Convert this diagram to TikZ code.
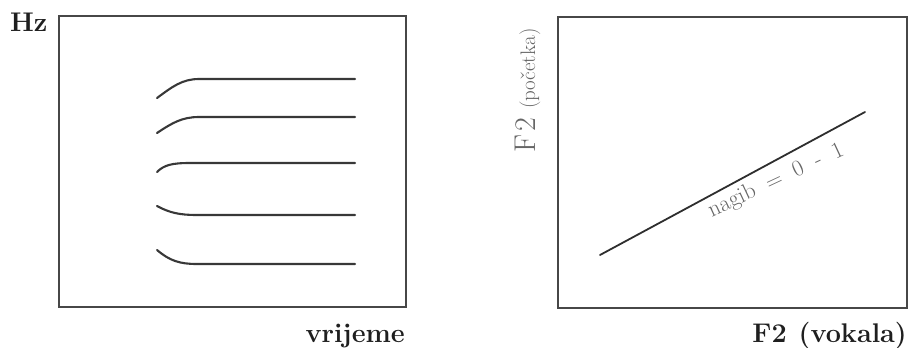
\documentclass[tikz,border=0pt]{standalone}
\usepackage{fontspec}
\begin{document}
\begin{tikzpicture}[x=1pt,y=-1pt,
  frame/.style={draw=black!72, line width=2.8pt, inner sep=0pt, fill=none},
  formant/.style={draw=black!78, line width=2.1pt, line cap=round},
  regline/.style={draw=black!82, line width=1.8pt, line cap=round},
  boldlabel/.style={inner sep=0pt, text=black!88, font=\fontsize{27}{30}\selectfont\bfseries},
  greylabel/.style={inner sep=0pt, text=black!60}]
  \useasboundingbox (0,0) rectangle (911,348);

  % left panel: formant transitions over time
  \node[frame, minimum width=347pt, minimum height=291pt] (lbox) at (232.5,161.5) {};
  \node[boldlabel, anchor=base west] (hz) at (10,31) {Hz};
  \node[boldlabel, anchor=base east] (time) at (405,342) {vrijeme};

  \draw[formant] (157,98)  .. controls (172,87)  and (182,79)  .. (199,79)  -- (355,79);
  \draw[formant] (157,133) .. controls (172,123) and (182,117) .. (199,117) -- (355,117);
  \draw[formant] (157,172) .. controls (164,165) and (172,163) .. (190,163) -- (355,163);
  \draw[formant] (157,206) .. controls (170,213) and (180,215) .. (197,215) -- (355,215);
  \draw[formant] (157,250) .. controls (170,261) and (180,264) .. (197,264) -- (355,264);

  % right panel: locus equation
  \node[frame, minimum width=349pt, minimum height=291pt] (rbox) at (732.5,162.5) {};
  \node[greylabel, anchor=base west, rotate=90] (ylab) at (535,153)
    {\fontsize{30}{32}\selectfont F\kern3pt 2\hspace{9pt}\fontsize{21}{24}\selectfont(početka)};
  \node[boldlabel, anchor=base east] (xlab) at (907,342) {F2\hspace{12pt}(vokala)};

  \coordinate (p0) at (600,255);
  \coordinate (p1) at (865,112);
  \draw[regline] (p0) -- (p1);
  \node[greylabel, anchor=base, rotate=25, font=\fontsize{23}{26}\selectfont] (slope) at (778.5,186)
    {nagib\hspace{13pt}=\hspace{13pt}0\hspace{13pt}-\hspace{13pt}1};
\end{tikzpicture}
\end{document}
